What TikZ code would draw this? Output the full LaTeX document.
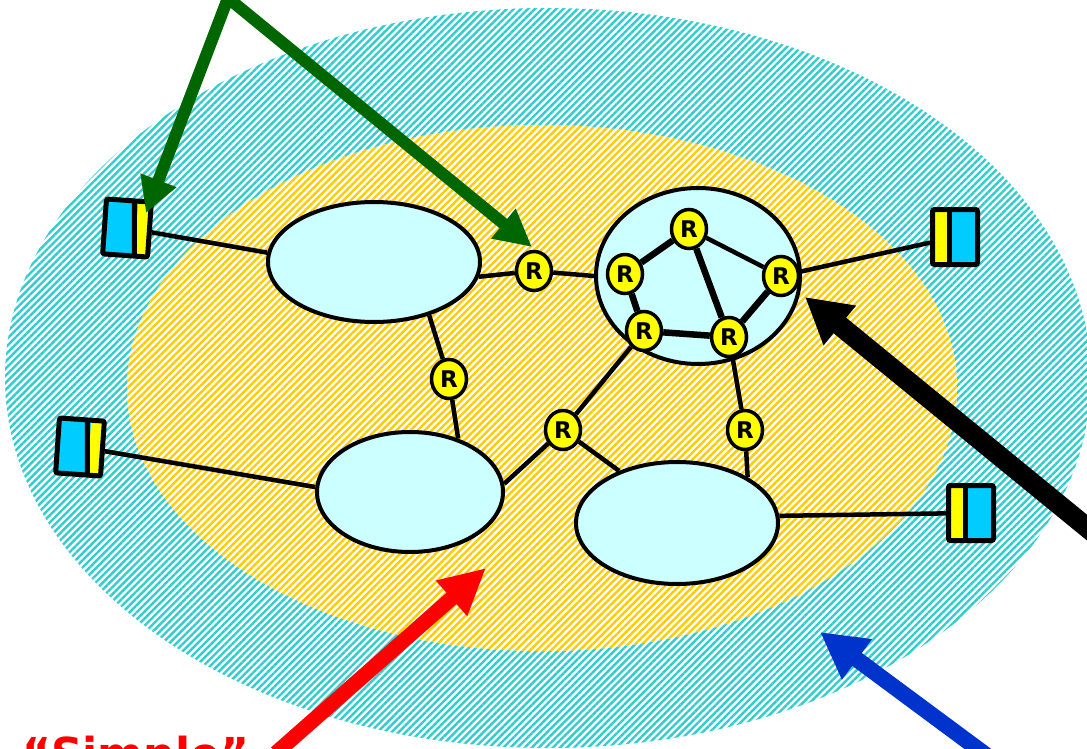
\documentclass[tikz,border=0pt]{standalone}
\usepackage{fontspec}
\newfontfamily\verdana{DejaVu Sans}
\usetikzlibrary{arrows.meta, positioning, shapes.geometric, patterns.meta}
\definecolor{ringteal}{HTML}{33CCCC}
\definecolor{ringgold}{HTML}{FFCC00}
\definecolor{cloudfill}{HTML}{CCFFFF}
\definecolor{hostblue}{HTML}{00CCFF}
\definecolor{rtyellow}{HTML}{FFFF00}
\definecolor{callgreen}{HTML}{006600}
\definecolor{callblue}{HTML}{0033CC}
\tikzset{
  ring/.style = {pattern={Lines[angle=45,distance=5pt,line width=2.4pt]}},
  cloud/.style = {ellipse, draw=black, line width=4pt, fill=cloudfill, inner sep=0pt},
  router/.style = {ellipse, draw=black, line width=3.5pt, fill=rtyellow, inner sep=0pt, minimum width=35pt, minimum height=39pt, font=\verdana\fontsize{23}{23}\selectfont\bfseries},
  host/.style = {rectangle, draw=black, line width=5pt, rounded corners=2pt, inner sep=0pt, minimum width=45pt, minimum height=55pt},
  hostleft/.style = {host, fill=hostblue, path picture={
      \fill[rtyellow] ([xshift=-17pt]path picture bounding box.south east) rectangle (path picture bounding box.north east);
      \draw[line width=5pt] ([xshift=-17pt]path picture bounding box.south east) -- ([xshift=-17pt]path picture bounding box.north east);}},
  hostright/.style = {host, fill=hostblue, path picture={
      \fill[rtyellow] (path picture bounding box.south west) rectangle ([xshift=17pt]path picture bounding box.north west);
      \draw[line width=5pt] ([xshift=17pt]path picture bounding box.south west) -- ([xshift=17pt]path picture bounding box.north west);}},
  link/.style = {line width=4.5pt},
  trunk/.style = {line width=6.5pt},
  callout/.style = {line width=#1, -{Triangle[length=40pt,width=42pt]}}
}

\begin{document}
\begin{tikzpicture}[x=1pt, y=-1pt]
\useasboundingbox (0,0) rectangle (1087,749);
\clip (0,0) rectangle (1087,749);

% Ring areas (outer teal, inner gold)
\path[ring, pattern color=ringteal] (548,378) ellipse [x radius=543, y radius=370];
\fill[white] (542,388) ellipse [x radius=415, y radius=263];
\path[ring, pattern color=ringgold] (542,388) ellipse [x radius=415, y radius=263];

% Clouds
\node[cloud, minimum width=212pt, minimum height=120pt] (net1) at (374,262) {};
\node[cloud, minimum width=186pt, minimum height=120pt] (net2) at (410,492) {};
\node[cloud, minimum width=202pt, minimum height=122pt] (net3) at (677,523) {};
\node[cloud, minimum width=204pt, minimum height=176pt] (net4) at (698,276) {};

% Hosts
\node[hostleft, rotate=-4] (h1) at (127,228) {};
\node[hostleft, rotate=-4] (h2) at (80,447) {};
\node[hostright] (h3) at (955,237) {};
\node[hostright] (h4) at (971,513) {};

% Routers between clouds
\node[router] (r1) at (534,271) {R};
\node[router] (r2) at (449,379) {R};
\node[router] (r3) at (563,430) {R};
\node[router] (r9) at (745,430) {R};

% Routers inside the core cloud
\node[router] (r4) at (689,229) {R};
\node[router] (r5) at (625,274) {R};
\node[router] (r6) at (781,276) {R};
\node[router] (r7) at (644,331) {R};
\node[router] (r8) at (729,337) {R};

% ----- LINKS -----
\draw[link] (h1) -- (net1.175);
\draw[link] (net1.-8) -- (r1);
\draw[link] (r1) -- (net4.west);
\draw[link] (net1.-44) -- (r2);
\draw[link] (r2) -- (net2.48);
\draw[link] (h2) -- (net2.177);
\draw[link] (net2.5) -- (r3);
\draw[link] (r3) -- (r7);
\draw[link] (r3) -- (net3.138);
\draw[link] (r8) -- (r9);
\draw[link] (r9) -- (net3.33);
\draw[link] (r6) -- (h3);
\draw[link] (net3.4) -- (h4);

% Core links
\draw[trunk] (r4) -- (r5);
\draw[trunk] (r5) -- (r7);
\draw[trunk] (r7) -- (r8);
\draw[trunk] (r8) -- (r6);
\draw[trunk] (r4) -- (r8);
\draw[link] (r4) -- (r6);

% ----- CALLOUTS -----
\coordinate (gapex) at (228,-2);
\coordinate (gtip1) at (146,213);
\coordinate (gtip2) at (532,247);
\coordinate (redtail) at (276,753);
\coordinate (redtip) at (486,568);
\coordinate (bluetail) at (986,755);
\coordinate (bluetip) at (820,632);
\coordinate (blacktail) at (1112,548);
\coordinate (blacktip) at (805,297);

\draw[callout=12pt, callgreen, -{Triangle[length=35pt,width=36pt]}] (gapex) -- (gtip1);
\draw[callout=12pt, callgreen, -{Triangle[length=37pt,width=36pt]}] (gapex) -- (gtip2);
\draw[callout=15pt, red, -{Triangle[length=46pt,width=44pt]}] (redtail) -- (redtip);
\draw[callout=16pt, callblue, -{Triangle[length=46pt,width=47pt]}] (bluetail) -- (bluetip);
\draw[callout=20pt, black, -{Triangle[length=45pt,width=48pt]}] (blacktail) -- (blacktip);

% Label at the bottom
\node[anchor=base west, inner sep=0pt, text=red, font=\verdana\fontsize{44}{44}\selectfont\bfseries] (simple) at (22,769) {“Simple”};

\end{tikzpicture}
\end{document}
